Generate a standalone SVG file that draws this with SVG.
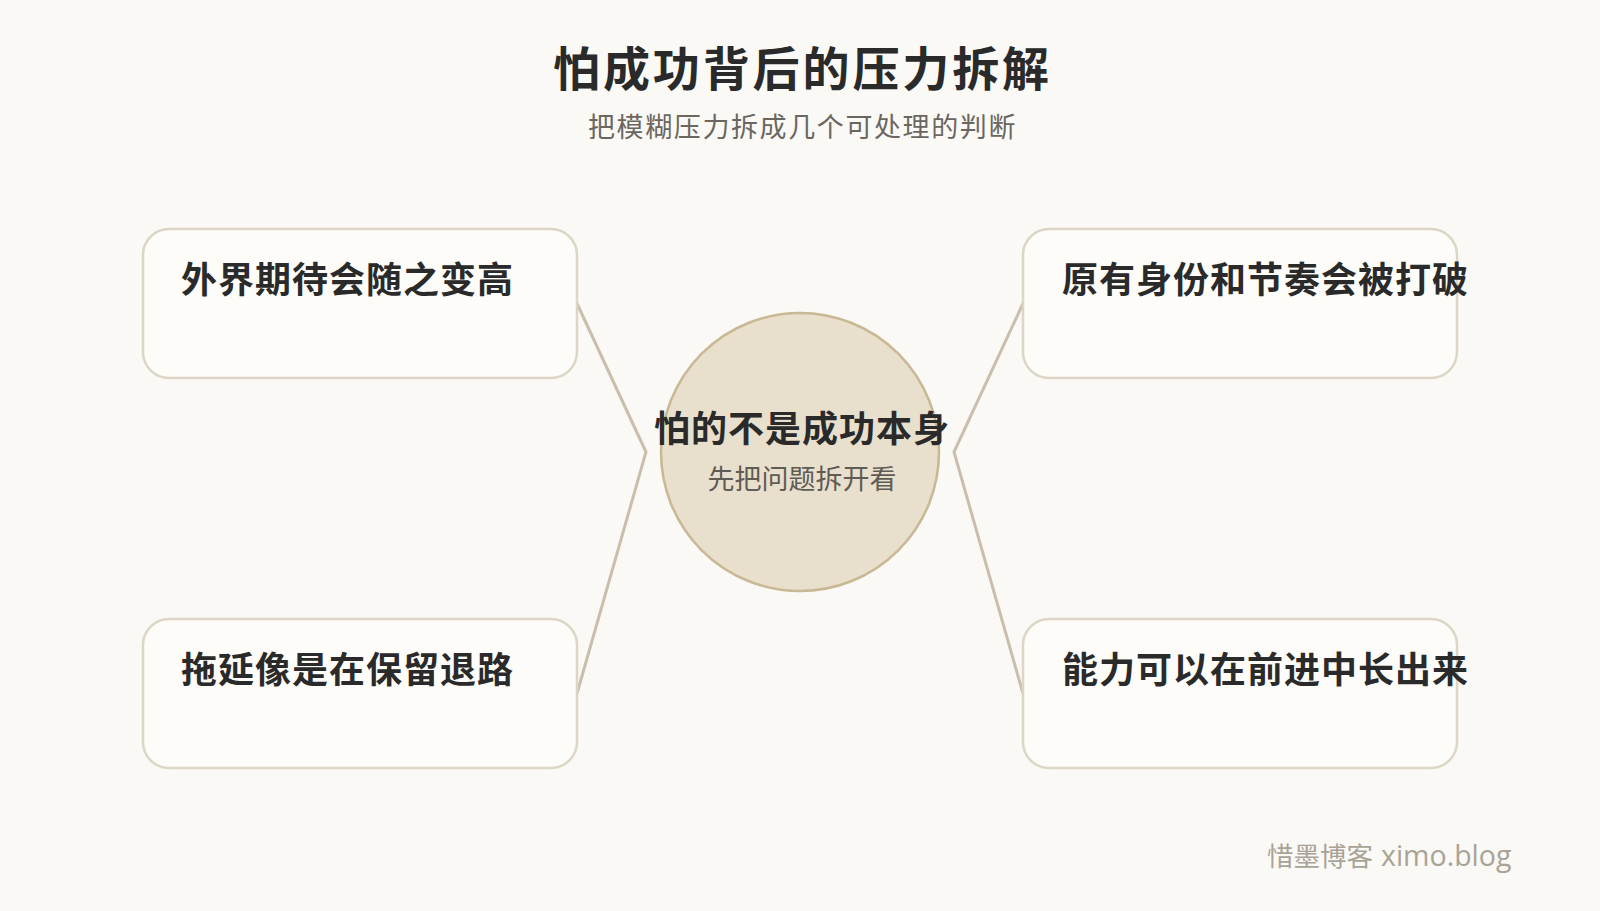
<svg xmlns="http://www.w3.org/2000/svg" width="1600" height="911" viewBox="0 0 1600 911">
<style>
.box{fill:#fdfcf9;stroke:#ddd5c5;stroke-width:2.5}
.lbl{font-family:"Noto Sans CJK SC","Noto Sans",sans-serif;font-weight:700;font-size:36px;fill:#2a2a2a;letter-spacing:1px}
.conn{fill:none;stroke:#c9bfac;stroke-width:3;stroke-linejoin:miter}
</style>
<rect x="0" y="0" width="1600" height="911" fill="#faf9f6"/>
<text x="553" y="86" font-family="'Noto Sans CJK SC','Noto Sans',sans-serif" font-weight="700" font-size="47" fill="#2a2a2a" letter-spacing="2.9">怕成功背后的压力拆解</text>
<text x="588" y="137" font-family="'Noto Sans CJK SC','Noto Sans',sans-serif" font-size="27" fill="#6b6760" letter-spacing="1.6">把模糊压力拆成几个可处理的判断</text>
<g id="connectors">
<polyline class="conn" points="577,303.5 646,452 577,693.5"/>
<polyline class="conn" points="1023,303.5 954,452 1023,693.5"/>
</g>
<g id="center">
<circle cx="800" cy="452" r="139" fill="#e8dfcd" stroke="#c8b894" stroke-width="2.5"/>
<text x="802" y="442" text-anchor="middle" class="lbl">怕的不是成功本身</text>
<text x="802" y="489" text-anchor="middle" font-family="'Noto Sans CJK SC','Noto Sans',sans-serif" font-size="27" fill="#5f5b55">先把问题拆开看</text>
</g>
<g id="node1">
<rect class="box" x="143" y="229" width="434" height="149" rx="26"/>
<text class="lbl" x="181" y="293">外界期待会随之变高</text>
</g>
<g id="node2">
<rect class="box" x="1023" y="229" width="434" height="149" rx="26"/>
<text class="lbl" x="1062" y="293">原有身份和节奏会被打破</text>
</g>
<g id="node3">
<rect class="box" x="143" y="619" width="434" height="149" rx="26"/>
<text class="lbl" x="181" y="683">拖延像是在保留退路</text>
</g>
<g id="node4">
<rect class="box" x="1023" y="619" width="434" height="149" rx="26"/>
<text class="lbl" x="1062" y="683">能力可以在前进中长出来</text>
</g>
<text y="866" font-family="'Noto Sans CJK SC','Noto Sans',sans-serif" font-size="26.5" fill="#a9a396"><tspan x="1267">惜墨博客</tspan><tspan x="1381" font-family="'Open Sans','Noto Sans',sans-serif" font-size="28.5">ximo.blog</tspan></text>
</svg>
